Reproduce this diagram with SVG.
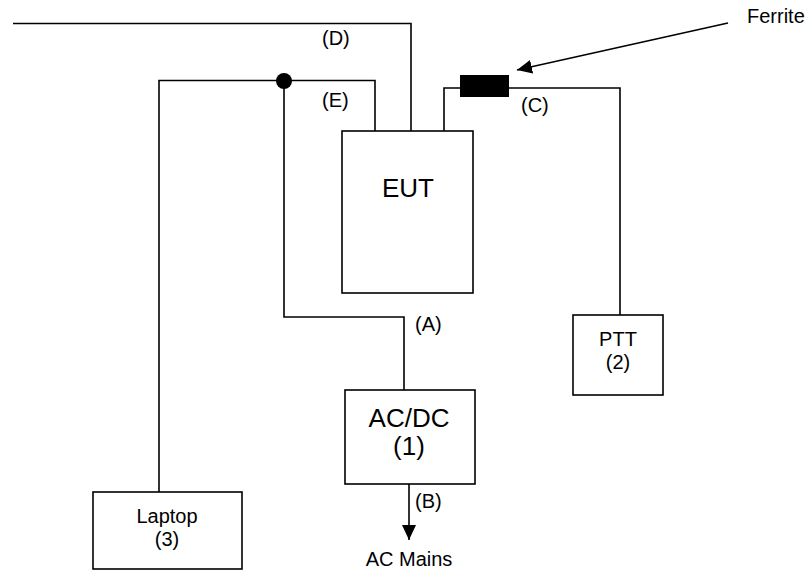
<svg xmlns="http://www.w3.org/2000/svg" width="809" height="571" viewBox="0 0 809 571">
<style>
.box{fill:#fff;stroke:#000;stroke-width:1.6}
.w{fill:none;stroke:#000;stroke-width:1.6}
text{font-family:"Liberation Sans",Arial,sans-serif;fill:#000}
.big{font-size:26px}
.t{font-size:20px}
.lbl{font-size:20px}
</style>
<defs>
<marker id="ah" markerWidth="16" markerHeight="14" refX="15" refY="7" orient="auto" markerUnits="userSpaceOnUse">
<path d="M0,0 L15,7 L0,14 Z" fill="#000"/>
</marker>
</defs>
<rect width="809" height="571" fill="#fff"/>
<g id="connectors">
<polyline class="w" points="13,23.5 411,23.5 411,131"/>
<polyline class="w" points="375,131 375,80.5 159,80.5 159,492"/>
<polyline class="w" points="284,80.5 284,317 404,317 404,390"/>
<polyline class="w" points="444,131 444,88 620,88 620,315"/>
<line class="w" x1="409" y1="484" x2="409" y2="540" marker-end="url(#ah)"/>
<line class="w" x1="728" y1="23" x2="517" y2="70" marker-end="url(#ah)"/>
<circle cx="284" cy="81" r="8" fill="#000"/>
<rect id="ferrite-core" x="460" y="75" width="49" height="22" fill="#000"/>
<text class="lbl" x="322" y="45">(D)</text>
<text class="lbl" x="322" y="107">(E)</text>
<text class="lbl" x="521" y="112">(C)</text>
<text class="lbl" x="415" y="331">(A)</text>
<text class="lbl" x="415" y="508">(B)</text>
</g>
<g id="eut">
<rect class="box" x="342" y="131" width="131" height="162"/>
<text class="big" x="408" y="197" text-anchor="middle">EUT</text>
</g>
<g id="acdc">
<rect class="box" x="345" y="390" width="130" height="94"/>
<text class="big" x="409" y="427" text-anchor="middle">AC/DC</text>
<text class="big" x="409" y="455" text-anchor="middle">(1)</text>
</g>
<g id="ptt">
<rect class="box" x="573" y="315" width="90" height="80"/>
<text class="t" x="618" y="346" text-anchor="middle">PTT</text>
<text class="t" x="618" y="369" text-anchor="middle">(2)</text>
</g>
<g id="laptop">
<rect class="box" x="93" y="492" width="149" height="77"/>
<text class="t" x="167" y="523" text-anchor="middle">Laptop</text>
<text class="t" x="167" y="546" text-anchor="middle">(3)</text>
</g>
<g id="ac-mains">
<text class="t" x="409" y="566" text-anchor="middle">AC Mains</text>
</g>
<g id="ferrite-label">
<text class="t" x="747" y="23">Ferrite</text>
</g>
</svg>
